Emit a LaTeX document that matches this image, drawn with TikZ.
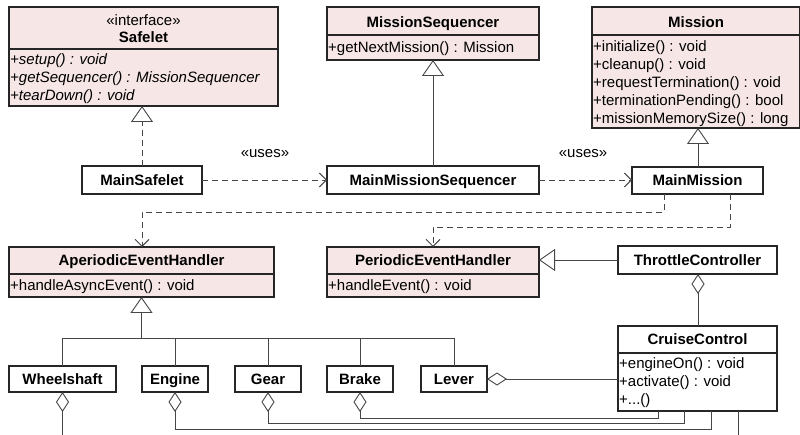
\documentclass[tikz,border=0pt]{standalone}
\usepackage{fontspec}
\setmainfont{Liberation Sans}
\usetikzlibrary{arrows.meta}
\definecolor{classpink}{RGB}{246,230,230}
\definecolor{edgeink}{RGB}{38,38,38}
\definecolor{wireink}{RGB}{70,70,70}

\begin{document}
\begin{tikzpicture}[x=1pt,y=-1pt,
  box/.style={draw=edgeink, line width=1.1pt, inner sep=0pt, outer sep=0pt, anchor=north west},
  cls/.style={box, fill=classpink},
  plain/.style={box, fill=white},
  sepline/.style={draw=edgeink, line width=1.1pt},
  txt/.style={font=\fontsize{15}{18}\selectfont, inner sep=0pt, text height=10.5pt, text depth=0pt},
  title/.style={txt, font=\bfseries\fontsize{15}{18}\selectfont},
  member/.style={txt, anchor=west},
  wire/.style={draw=wireink, line width=0.9pt},
  dep/.style={wire, dash pattern=on 6pt off 4pt, -{Straight Barb[length=7pt,width=14pt]}},
  gen/.style={wire, -{Triangle[open,length=16pt,width=22pt,fill=white]}},
  real/.style={gen, dash pattern=on 6pt off 4pt},
  agg/.style={wire, {Diamond[open,length=20pt,width=13pt,fill=white]}-},
]
\useasboundingbox (0,0) rectangle (800,435);

% ---------- top row: interfaces and abstract classes ----------
\node[cls, minimum width=269pt, minimum height=99pt] (safelet) at (9,7) {};
\draw[sepline] (9,49) -- (278,49);
\node[txt] (safeletst) at (143.5,20) {«interface»};
\node[title] (safeletn) at (143.5,37) {Safelet};
\node[member] (sm1) at (10,59) {\itshape +setup() : void};
\node[member] (sm2) at (10,77) {\itshape +getSequencer() : MissionSequencer};
\node[member] (sm3) at (10,95) {\itshape +tearDown() : void};

\node[cls, minimum width=212pt, minimum height=53pt] (mseq) at (327,7) {};
\draw[sepline] (327,35) -- (539,35);
\node[title] (mseqn) at (433,22) {MissionSequencer};
\node[member] (qm1) at (328,47) {+getNextMission() : Mission};

\node[cls, minimum width=208pt, minimum height=121pt] (mission) at (592,7) {};
\draw[sepline] (592,35) -- (800,35);
\node[title] (missionn) at (696,22) {Mission};
\node[member] (mm1) at (593,46) {+initialize() : void};
\node[member] (mm2) at (593,64) {+cleanup() : void};
\node[member] (mm3) at (593,82) {+requestTermination() : void};
\node[member] (mm4) at (593,100) {+terminationPending() : bool};
\node[member] (mm5) at (593,118) {+missionMemorySize() : long};

% ---------- concrete mission classes ----------
\node[plain, minimum width=120pt, minimum height=28pt] (mainsafelet) at (82,166) {};
\node[title] at (mainsafelet.center) {MainSafelet};
\node[plain, minimum width=212pt, minimum height=28pt] (mainmseq) at (327,166) {};
\node[title] at (mainmseq.center) {MainMissionSequencer};
\node[plain, minimum width=131pt, minimum height=27pt] (mainmission) at (632,167) {};
\node[title] at (mainmission.center) {MainMission};

% ---------- event handlers ----------
\node[cls, minimum width=265pt, minimum height=50pt] (aeh) at (9,247) {};
\draw[sepline] (9,274) -- (274,274);
\node[title] (aehn) at (141.5,260) {AperiodicEventHandler};
\node[member] (am1) at (10,285) {+handleAsyncEvent() : void};

\node[cls, minimum width=212pt, minimum height=50pt] (peh) at (327,247) {};
\draw[sepline] (327,274) -- (539,274);
\node[title] (pehn) at (433,260) {PeriodicEventHandler};
\node[member] (pm1) at (328,285) {+handleEvent() : void};

\node[plain, minimum width=159pt, minimum height=28pt] (throttle) at (618,246) {};
\node[title] at (throttle.center) {ThrottleController};

\node[plain, minimum width=159pt, minimum height=85pt] (cruise) at (618,326) {};
\draw[sepline] (618,353) -- (777,353);
\node[title] (cruisen) at (697.5,339) {CruiseControl};
\node[member] (cm1) at (619,363) {+engineOn() : void};
\node[member] (cm2) at (619,381) {+activate() : void};
\node[member] (cm3) at (619,399) {+...()};

% ---------- hardware handlers ----------
\node[plain, minimum width=107pt, minimum height=26pt] (wheelshaft) at (9,366) {};
\node[title] at (wheelshaft.center) {Wheelshaft};
\node[plain, minimum width=66pt, minimum height=26pt] (engine) at (142,366) {};
\node[title] at (engine.center) {Engine};
\node[plain, minimum width=66pt, minimum height=26pt] (gear) at (235,366) {};
\node[title] at (gear.center) {Gear};
\node[plain, minimum width=66pt, minimum height=26pt] (brake) at (327,366) {};
\node[title] at (brake.center) {Brake};
\node[plain, minimum width=66pt, minimum height=26pt] (lever) at (421,366) {};
\node[title] at (lever.center) {Lever};

% ---------- relations ----------
\coordinate (mmtop) at (698,167);
\coordinate (mmsuper) at (698,128);
\draw[real] (mainsafelet.north) -- (mainsafelet.north |- safelet.south);
\draw[gen] (mainmseq.north) -- (mainmseq.north |- mseq.south);
\draw[gen] (mmtop) -- (mmsuper);

\draw[dep] (mainsafelet.east) -- (mainsafelet.east -| mainmseq.west);
\node[txt] (uses1) at (265,152) {«uses»};
\draw[dep] (mainmseq.east) -- (mainmseq.east -| mainmission.west);
\node[txt] (uses2) at (583,152) {«uses»};

\coordinate (mmA) at (664,194);
\coordinate (mmB) at (730,194);
\coordinate (aehin) at (142,247);
\draw[dep] (mmA) -- (664,212) -| (aehin);
\draw[dep] (mmB) -- (730,227) -| (peh.north);

\draw[gen] (throttle.west) -- (peh.east |- throttle.west);
\coordinate (thbot) at (698,274);
\coordinate (cctop) at (698,326);
\draw[agg] (thbot) -- (cctop);

% inheritance bus below AperiodicEventHandler
\coordinate (bus) at (0,338);
\draw[gen] (aeh.south |- bus) -- (aeh.south);
\draw[wire] (wheelshaft.north) |- (lever.north |- bus) -- (lever.north);
\draw[wire] (engine.north) -- (engine.north |- bus);
\draw[wire] (gear.north) -- (gear.north |- bus);
\draw[wire] (brake.north) -- (brake.north |- bus);

% aggregations into CruiseControl
\draw[agg] (lever.east) -- (lever.east -| cruise.west);
\coordinate (pb) at (658,411);
\coordinate (pg) at (684,411);
\coordinate (pe) at (711,411);
\coordinate (pw) at (738,411);
\coordinate (wsend) at (62.5,437);
\coordinate (pwend) at (738,437);
\draw[agg] (brake.south) -- ++(0,26) -| (pb);
\draw[agg] (gear.south) -- ++(0,31) -| (pg);
\draw[agg] (engine.south) -- ++(0,37) -| (pe);
\draw[agg] (wheelshaft.south) -- (wsend);
\draw[wire] (pw) -- (pwend);
\end{tikzpicture}
\end{document}
